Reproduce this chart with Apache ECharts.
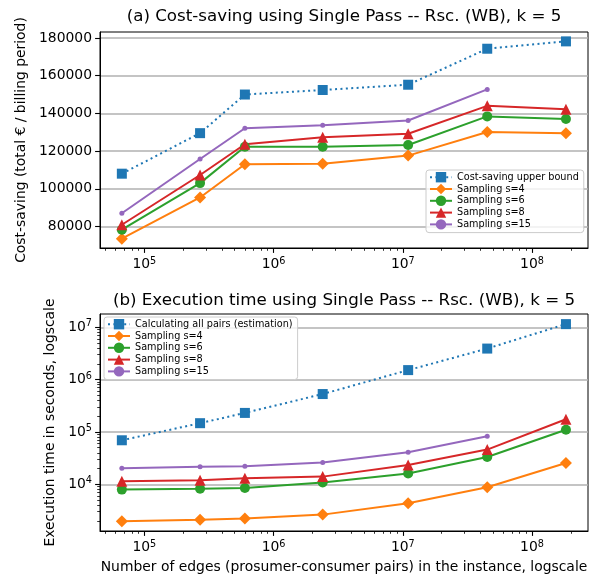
<!DOCTYPE html>
<html><head><meta charset="utf-8">
<script src="https://cdn.jsdelivr.net/npm/echarts@6/dist/echarts.min.js"></script>
<style>html,body{margin:0;padding:0;background:#fff}#c{width:596px;height:578px}</style>
</head><body><div id="c"></div>
<script>
// ---------- data ----------
const edges = [67000, 270000, 600000, 2400000, 11000000, 45000000, 183000000];

const costUpper = [108000, 129500, 150000, 152400, 155200, 174300, 178200];
const costS4    = [73500, 95400, 113000, 113300, 117600, 130100, 129400];
const costS6    = [78300, 103000, 122300, 122300, 123200, 138400, 137000];
const costS8    = [80900, 107300, 123600, 127300, 129200, 144000, 142200];
const costS15   = [87000, 115800, 132100, 133700, 136200, 152700];

const timeAll = [69300, 147000, 231000, 530000, 1520000, 3920000, 11500000];
const timeS4  = [1960, 2100, 2210, 2630, 4330, 8800, 25500];
const timeS6  = [7900, 8200, 8500, 10800, 16000, 33200, 110000];
const timeS8  = [11400, 11900, 13000, 14000, 23400, 46000, 175000];
const timeS15 = [20200, 21700, 22100, 26000, 41000, 83000];

const xMajorTicks = [1e5, 1e6, 1e7, 1e8];
const xMinorTicks = [5e4, 6e4, 7e4, 8e4, 9e4,
  2e5, 3e5, 4e5, 5e5, 6e5, 7e5, 8e5, 9e5,
  2e6, 3e6, 4e6, 5e6, 6e6, 7e6, 8e6, 9e6,
  2e7, 3e7, 4e7, 5e7, 6e7, 7e7, 8e7, 9e7,
  2e8];
const costTicks = [80000, 100000, 120000, 140000, 160000, 180000];
const timeMajorTicks = [1e4, 1e5, 1e6, 1e7];
const timeMinorTicks = [2e3, 3e3, 4e3, 5e3, 6e3, 7e3, 8e3, 9e3,
  2e4, 3e4, 4e4, 5e4, 6e4, 7e4, 8e4, 9e4,
  2e5, 3e5, 4e5, 5e5, 6e5, 7e5, 8e5, 9e5,
  2e6, 3e6, 4e6, 5e6, 6e6, 7e6, 8e6, 9e6];

const titleTop = '(a) Cost-saving using Single Pass -- Rsc. (WB), k = 5';
const titleBottom = '(b) Execution time using Single Pass -- Rsc. (WB), k = 5';
const yNameTop = 'Cost-saving (total € / billing period)';
const yNameBottom = 'Execution time in seconds, logscale';
const xName = 'Number of edges (prosumer-consumer pairs) in the instance, logscale';
const nameUpper = 'Cost-saving upper bound';
const nameAll = 'Calculating all pairs (estimation)';
const nameS4 = 'Sampling s=4', nameS6 = 'Sampling s=6', nameS8 = 'Sampling s=8', nameS15 = 'Sampling s=15';

// ---------- layout / style ----------
const FONT = 'DejaVu Sans';
const X_MIN = 45400, X_MAX = 2.71e8;
const COST_MIN = 68570, COST_MAX = 183175;
const TIME_MIN = 1279, TIME_MAX = 1.795e7;
const GL = 100, GR = 8;
const C = {blue:'#1f77b4', orange:'#ff7f0e', green:'#2ca02c', red:'#d62728', purple:'#9467bd'};

function textWidth(t, size){
  const ctx = document.createElement('canvas').getContext('2d');
  ctx.font = size + 'px "' + FONT + '"';
  return ctx.measureText(t).width;
}
const axesCenter = GL + (596 - GL - GR) / 2;

const powRich = {
  b:{fontSize:13.9, fontFamily:FONT, color:'#000', lineHeight:17},
  s:{fontSize:9.7, fontFamily:FONT, color:'#000', lineHeight:10, verticalAlign:'top'}
};
function powLabel(v){ return '{b|10}{s|' + Math.round(Math.log10(v)) + '}'; }

function xMain(gi, showName){
  return {
    type:'log', gridIndex:gi, min:X_MIN, max:X_MAX, position:'bottom',
    name: showName ? xName : '', nameLocation:'middle', nameGap:29,
    nameTextStyle:{fontSize:13.9, fontFamily:FONT, color:'#000'},
    axisLine:{show:true, lineStyle:{color:'#000', width:1}},
    axisTick:{show:true, length:4.9, customValues:xMajorTicks, lineStyle:{color:'#000', width:1.1}},
    axisLabel:{show:true, customValues:xMajorTicks, margin:8, formatter:powLabel, rich:powRich},
    splitLine:{show:false}
  };
}
function minorAxis(gi, type, min, max, ticks, pos){
  return {
    type:type, gridIndex:gi, min:min, max:max, position:pos,
    axisLine:{show:false},
    axisTick:{show:true, length:2.8, customValues:ticks, lineStyle:{color:'#000', width:0.8}},
    axisLabel:{show:false},
    splitLine:{show:false}
  };
}

function line(name, xi, yi, vals, color, symbol, size, dotted){
  return {
    type:'line', name:name, xAxisIndex:xi, yAxisIndex:yi,
    data: vals.map((v, i) => [edges[i], v]),
    symbol:symbol, symbolSize:size, showSymbol:true,
    lineStyle:{color:color, width:2, type: dotted ? [2, 3.4] : 'solid'},
    itemStyle:{color:color},
    emphasis:{disabled:true}, silent:true
  };
}

const legendCommon = {
  orient:'vertical', itemWidth:22, itemHeight:13, itemGap:1.4,
  padding:[2,5,3,3], backgroundColor:'rgba(255,255,255,0.8)',
  borderColor:'#cccccc', borderWidth:1, borderRadius:3,
  textStyle:{fontSize:9.7, fontFamily:FONT, color:'#000'},
  selectedMode:false
};

const chart = echarts.init(document.getElementById('c'), null, {renderer:'canvas'});
chart.setOption({
  animation:false,
  backgroundColor:'#fff',
  textStyle:{fontFamily:FONT},
  title:[
    {text:titleTop, left: axesCenter - textWidth(titleTop, 16.7)/2, top:8, padding:0,
     textStyle:{fontSize:16.7, fontWeight:'normal', fontFamily:FONT, color:'#000'}},
    {text:titleBottom, left: axesCenter - textWidth(titleBottom, 16.7)/2, top:292, padding:0,
     textStyle:{fontSize:16.7, fontWeight:'normal', fontFamily:FONT, color:'#000'}}
  ],
  grid:[
    {left:GL, right:GR, top:32, height:216, show:true, borderColor:'#000', borderWidth:1, backgroundColor:'transparent'},
    {left:GL, right:GR, top:314, height:217, show:true, borderColor:'#000', borderWidth:1, backgroundColor:'transparent'}
  ],
  legend:[
    Object.assign({}, legendCommon, {left:426, top:170, data:[nameUpper, nameS4, nameS6, nameS8, nameS15]}),
    Object.assign({}, legendCommon, {left:104, top:317, data:[nameAll, nameS4, nameS6, nameS8, nameS15]})
  ],
  xAxis:[
    xMain(0, false),
    minorAxis(0, 'log', X_MIN, X_MAX, xMinorTicks, 'bottom'),
    xMain(1, true),
    minorAxis(1, 'log', X_MIN, X_MAX, xMinorTicks, 'bottom')
  ],
  yAxis:[
    {type:'value', gridIndex:0, min:COST_MIN, max:COST_MAX, position:'left',
     name:yNameTop, nameLocation:'middle', nameGap:63, nameRotate:90,
     nameTextStyle:{fontSize:13.9, fontFamily:FONT, color:'#000'},
     axisLine:{show:true, lineStyle:{color:'#000', width:1}},
     axisTick:{show:true, length:4.9, customValues:costTicks, lineStyle:{color:'#000', width:1.1}},
     axisLabel:{show:true, customValues:costTicks, margin:8, fontSize:13.9, fontFamily:FONT, color:'#000',
                formatter: v => String(Math.round(v))},
     splitLine:{show:true, lineStyle:{color:'#b0b0b0', width:1.5}}},
    {type:'log', gridIndex:1, min:TIME_MIN, max:TIME_MAX, position:'left',
     name:yNameBottom, nameLocation:'middle', nameGap:40, nameRotate:90,
     nameTextStyle:{fontSize:13.9, fontFamily:FONT, color:'#000'},
     axisLine:{show:true, lineStyle:{color:'#000', width:1}},
     axisTick:{show:true, length:4.9, customValues:timeMajorTicks, lineStyle:{color:'#000', width:1.1}},
     axisLabel:{show:true, customValues:timeMajorTicks, margin:8, formatter:powLabel, rich:powRich},
     splitLine:{show:true, lineStyle:{color:'#b0b0b0', width:1.5}}},
    minorAxis(1, 'log', TIME_MIN, TIME_MAX, timeMinorTicks, 'left')
  ],
  series:[
    line(nameUpper, 0, 0, costUpper, C.blue, 'rect', 10, true),
    line(nameS4, 0, 0, costS4, C.orange, 'diamond', 12, false),
    line(nameS6, 0, 0, costS6, C.green, 'circle', 10, false),
    line(nameS8, 0, 0, costS8, C.red, 'triangle', 11, false),
    line(nameS15, 0, 0, costS15, C.purple, 'circle', 5, false),
    line(nameAll, 2, 1, timeAll, C.blue, 'rect', 10, true),
    line(nameS4, 2, 1, timeS4, C.orange, 'diamond', 12, false),
    line(nameS6, 2, 1, timeS6, C.green, 'circle', 10, false),
    line(nameS8, 2, 1, timeS8, C.red, 'triangle', 11, false),
    line(nameS15, 2, 1, timeS15, C.purple, 'circle', 5, false)
  ]
});
</script>
</body></html>
